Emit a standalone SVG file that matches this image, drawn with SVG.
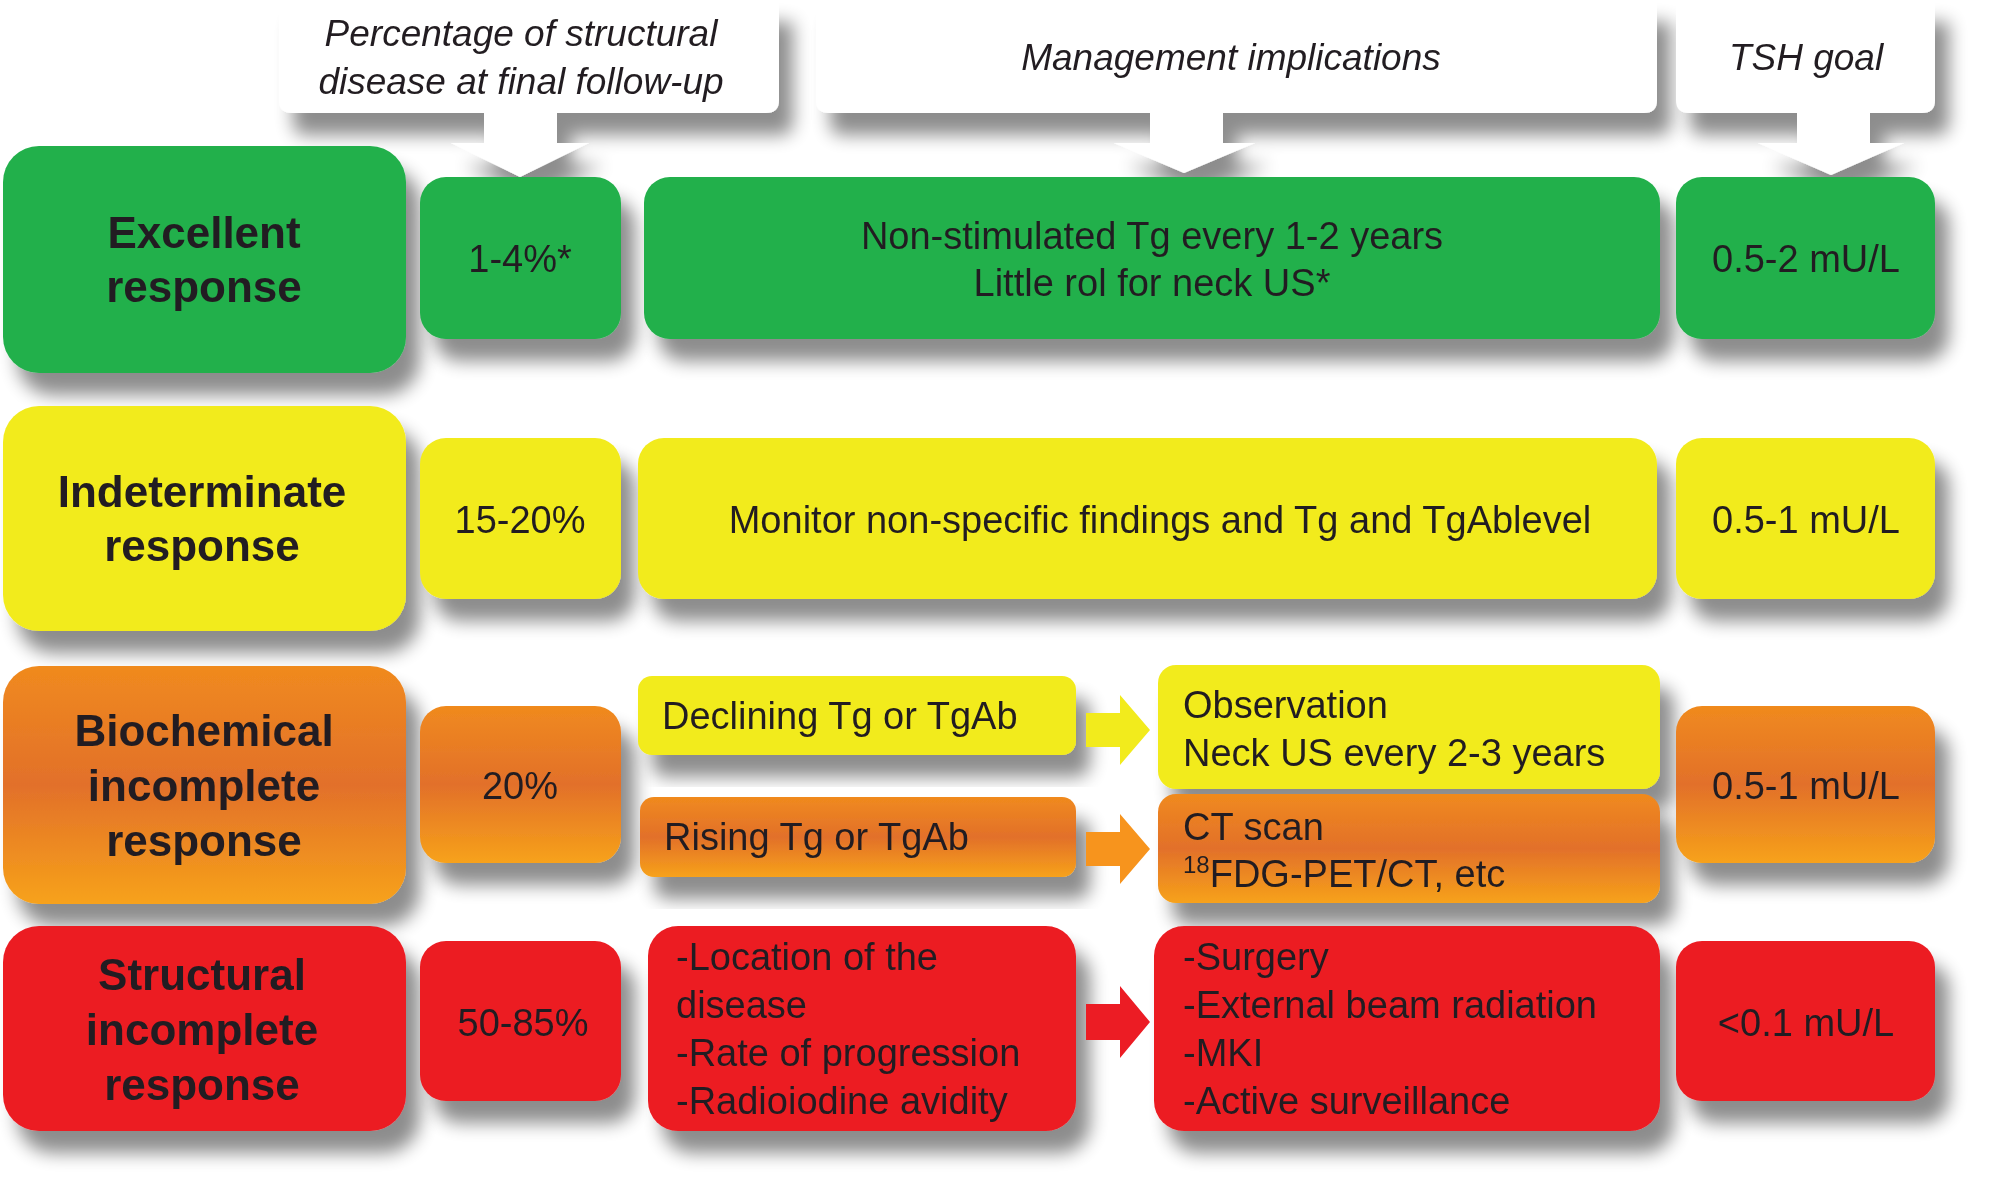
<svg xmlns="http://www.w3.org/2000/svg" width="2008" height="1204" viewBox="0 0 2008 1204">
<defs>
<filter id="sh" x="-20%" y="-20%" width="150%" height="160%">
<feGaussianBlur in="SourceAlpha" stdDeviation="9"/>
<feOffset dx="14" dy="22" result="b"/>
<feComponentTransfer><feFuncA type="linear" slope="0.45"/></feComponentTransfer>
<feMerge><feMergeNode/><feMergeNode in="SourceGraphic"/></feMerge>
</filter>
<linearGradient id="gOr" x1="0" y1="0" x2="0" y2="1"><stop offset="0" stop-color="#f08a1e"/><stop offset="0.5" stop-color="#e2702a"/><stop offset="1" stop-color="#f7a21a"/></linearGradient>
</defs>
<style>
text{font-family:"Liberation Sans",Arial,sans-serif;fill:#231f20}
.h{font-style:italic;font-size:37px}
.b{font-weight:bold;font-size:44px}
.t{font-size:38px}
.g{fill:#22b04b}.y{fill:#f2eb1c}.o{fill:url(#gOr)}.r{fill:#ec1c24}.w{fill:#fff}
</style>
<rect width="2008" height="1204" fill="#fff"/>
<g id="header1" filter="url(#sh)">
<path class="w" d="M279,0 H779 V100 Q779,113 766,113 H557 V143 H589 L520,177 L451,143 H484 V113 H292 Q279,113 279,100 Z"/>
<text class="h" x="521" y="46" text-anchor="middle">Percentage of structural</text>
<text class="h" x="521" y="94" text-anchor="middle">disease at final follow-up</text>
</g>
<g id="header2" filter="url(#sh)">
<path class="w" d="M816,0 H1657 V100 Q1657,113 1644,113 H1223 V143 H1255 L1184,173 L1114,143 H1150 V113 H829 Q816,113 816,100 Z"/>
<text class="h" x="1231" y="70" text-anchor="middle">Management implications</text>
</g>
<g id="header3" filter="url(#sh)">
<path class="w" d="M1676,0 H1935 V100 Q1935,113 1922,113 H1870 V143 H1904 L1831,175 L1758,143 H1797 V113 H1689 Q1676,113 1676,100 Z"/>
<text class="h" x="1806" y="70" text-anchor="middle">TSH goal</text>
</g>

<g id="excellent" filter="url(#sh)"><rect class="g" x="3" y="146" width="403" height="227" rx="36"/>
<text class="b" x="204" y="248" text-anchor="middle">Excellent</text><text class="b" x="204" y="302" text-anchor="middle">response</text></g>
<g id="ex-pct" filter="url(#sh)"><rect class="g" x="420" y="177" width="201" height="162" rx="26"/><text class="t" x="520" y="272" text-anchor="middle">1-4%*</text></g>
<g id="ex-mgmt" filter="url(#sh)"><rect class="g" x="644" y="177" width="1016" height="162" rx="26"/>
<text class="t" x="1152" y="249" text-anchor="middle">Non-stimulated Tg every 1-2 years</text><text class="t" x="1152" y="296" text-anchor="middle">Little rol for neck US*</text></g>
<g id="ex-tsh" filter="url(#sh)"><rect class="g" x="1676" y="177" width="259" height="162" rx="26"/><text class="t" x="1806" y="272" text-anchor="middle">0.5-2 mU/L</text></g>

<g id="indeterminate" filter="url(#sh)"><rect class="y" x="3" y="406" width="403" height="225" rx="36"/>
<text class="b" x="202" y="507" text-anchor="middle">Indeterminate</text><text class="b" x="202" y="561" text-anchor="middle">response</text></g>
<g id="in-pct" filter="url(#sh)"><rect class="y" x="420" y="438" width="201" height="161" rx="26"/><text class="t" x="520" y="533" text-anchor="middle">15-20%</text></g>
<g id="in-mgmt" filter="url(#sh)"><rect class="y" x="638" y="438" width="1019" height="161" rx="26"/><text class="t" x="1160" y="533" text-anchor="middle">Monitor non-specific findings and Tg and TgAblevel</text></g>
<g id="in-tsh" filter="url(#sh)"><rect class="y" x="1676" y="438" width="259" height="161" rx="26"/><text class="t" x="1806" y="533" text-anchor="middle">0.5-1 mU/L</text></g>

<g id="biochemical" filter="url(#sh)"><rect class="o" x="3" y="666" width="403" height="238" rx="36"/>
<text class="b" x="204" y="746" text-anchor="middle">Biochemical</text><text class="b" x="204" y="801" text-anchor="middle">incomplete</text><text class="b" x="204" y="856" text-anchor="middle">response</text></g>
<g id="bi-pct" filter="url(#sh)"><rect class="o" x="420" y="706" width="201" height="157" rx="26"/><text class="t" x="520" y="799" text-anchor="middle">20%</text></g>
<g id="declining" filter="url(#sh)"><rect class="y" x="638" y="676" width="438" height="79" rx="14"/><text class="t" x="662" y="729">Declining Tg or TgAb</text></g>
<g id="rising" filter="url(#sh)"><rect class="o" x="640" y="797" width="436" height="80" rx="14"/><text class="t" x="664" y="850">Rising Tg or TgAb</text></g>
<g id="observation" filter="url(#sh)"><rect class="y" x="1158" y="665" width="502" height="124" rx="18"/>
<text class="t" x="1183" y="718">Observation</text><text class="t" x="1183" y="766">Neck US every 2-3 years</text></g>
<g id="ctscan" filter="url(#sh)"><rect class="o" x="1158" y="794" width="502" height="109" rx="18"/>
<text class="t" x="1183" y="840">CT scan</text><text class="t" x="1183" y="887"><tspan font-size="24" dy="-14">18</tspan><tspan dy="14">FDG-PET/CT, etc</tspan></text></g>
<g id="bi-tsh" filter="url(#sh)"><rect class="o" x="1676" y="706" width="259" height="157" rx="26"/><text class="t" x="1806" y="799" text-anchor="middle">0.5-1 mU/L</text></g>

<g id="structural" filter="url(#sh)"><rect class="r" x="3" y="926" width="403" height="205" rx="36"/>
<text class="b" x="202" y="990" text-anchor="middle">Structural</text><text class="b" x="202" y="1045" text-anchor="middle">incomplete</text><text class="b" x="202" y="1100" text-anchor="middle">response</text></g>
<g id="st-pct" filter="url(#sh)"><rect class="r" x="420" y="941" width="201" height="160" rx="26"/><text class="t" x="523" y="1036" text-anchor="middle">50-85%</text></g>
<g id="location" filter="url(#sh)"><rect class="r" x="648" y="926" width="428" height="205" rx="30"/>
<text class="t" x="676" y="970">-Location of the</text><text class="t" x="676" y="1018">disease</text><text class="t" x="676" y="1066">-Rate of progression</text><text class="t" x="676" y="1114">-Radioiodine avidity</text></g>
<g id="treatment" filter="url(#sh)"><rect class="r" x="1154" y="926" width="506" height="205" rx="30"/>
<text class="t" x="1183" y="970">-Surgery</text><text class="t" x="1183" y="1018">-External beam radiation</text><text class="t" x="1183" y="1066">-MKI</text><text class="t" x="1183" y="1114">-Active surveillance</text></g>
<g id="st-tsh" filter="url(#sh)"><rect class="r" x="1676" y="941" width="259" height="160" rx="26"/><text class="t" x="1806" y="1036" text-anchor="middle">&lt;0.1 mU/L</text></g>

<g id="connectors">
<path class="y" d="M1086,713 H1120 V695 L1150,730 L1120,765 V747 H1086 Z"/>
<path fill="#f7941d" d="M1086,832 H1120 V814 L1150,849 L1120,884 V866 H1086 Z"/>
<path class="r" d="M1086,1004 H1120 V986 L1150,1022 L1120,1058 V1040 H1086 Z"/>
</g>
</svg>
